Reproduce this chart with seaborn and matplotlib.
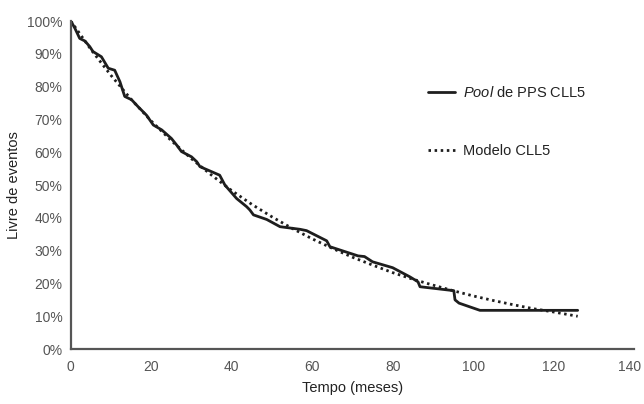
import matplotlib
matplotlib.use("Agg")
import matplotlib.pyplot as plt
import matplotlib.transforms as mtransforms
import seaborn as sns
import pandas as pd

# Observed pooled event-free survival (months, %)
pool_t = [0, 1, 2.2, 3.5, 4.7, 5.5, 7.6, 9.3, 10.9, 12.2, 13.4, 15.1, 16.7, 18.8,
          20.5, 22.6, 25, 26.3, 27.5, 30, 31.3, 32.1, 37, 38.3, 41.2, 43.7, 44.5,
          45.4, 48.7, 52, 57, 58.6, 63.6, 64.4, 71.4, 73, 75, 80, 84.3, 86.3,
          86.8, 95.2, 95.5, 96.5, 101.7, 126]
pool_s = [100, 97.8, 94.7, 93.9, 92.2, 90.7, 89.1, 85.6, 85, 81.5, 77, 76, 73.9, 71.3,
          68.3, 66.8, 64.2, 62.2, 60.2, 58.6, 57.1, 55.6, 53, 50, 45.9, 43.4, 42.4,
          40.9, 39.5, 37.3, 36.5, 36.1, 33, 31.2, 28.4, 28.2, 26.6, 24.8, 22, 20.5,
          19, 17.8, 15, 14, 11.8, 11.8]

# Fitted model curve (months, %)
model_t = [0, 5, 10, 15, 20, 25, 30, 35, 40, 45, 50, 55, 60, 65, 70, 75, 80, 85,
           90, 95, 100, 105, 110, 115, 120, 126]
model_s = [100, 91.3, 83.4, 76.1, 69.5, 63.5, 58, 53, 48.3, 44.1, 40.3, 36.8, 33.6,
           30.7, 28, 25.6, 23.3, 21.3, 19.5, 17.8, 16.2, 14.8, 13.5, 12.3, 11.3, 10]

x_ticks = [0, 20, 40, 60, 80, 100, 120, 140]
y_ticks = [0, 10, 20, 30, 40, 50, 60, 70, 80, 90, 100]

sns.set_style("white")
plt.rcParams["font.family"] = ["Liberation Sans", "DejaVu Sans"]
plt.rcParams["mathtext.fontset"] = "custom"
plt.rcParams["mathtext.it"] = "Liberation Sans:italic"
plt.rcParams["mathtext.rm"] = "Liberation Sans"

pool_df = pd.DataFrame({"t": pool_t, "s": pool_s})
model_df = pd.DataFrame({"t": model_t, "s": model_s})

fig = plt.figure(figsize=(6.44, 4.04), dpi=100)
ax = fig.add_axes([0.110, 0.136, 0.8745, 0.812])

sns.lineplot(data=pool_df, x="t", y="s", ax=ax, color="#1e1e1e", lw=2.0,
             label=r"$\it{Pool}$ de PPS CLL5", sort=False, estimator=None)
sns.lineplot(data=model_df, x="t", y="s", ax=ax, color="#1e1e1e", lw=2.0,
             linestyle=(0, (0.9, 1.3)), label="Modelo CLL5", sort=False, estimator=None)

ax.set_xlim(0, 140)
ax.set_ylim(0, 100)
ax.set_xticks(x_ticks)
ax.set_yticks(y_ticks)
ax.set_yticklabels([f"{v}%" for v in y_ticks])
ax.set_xlabel("Tempo (meses)", fontsize=10.5, color="#222222", labelpad=5)
ax.set_ylabel("Livre de eventos", fontsize=10.5, color="#222222", labelpad=4)

for side in ["top", "right"]:
    ax.spines[side].set_visible(False)
for side in ["left", "bottom"]:
    ax.spines[side].set_color("#555555")
    ax.spines[side].set_linewidth(1.6)
ax.tick_params(axis="both", direction="out", length=4, width=1.2, color="#333333",
               labelsize=10, labelcolor="#555555", pad=2)
ax.tick_params(axis="x", pad=4)

# nudge the right-most tick label so it stays inside the canvas
last = ax.get_xticklabels()[-1]
last.set_transform(last.get_transform() +
                   mtransforms.ScaledTranslation(-4 / 100, 0, fig.dpi_scale_trans))

leg = ax.legend(loc="upper left", bbox_to_anchor=(0.61, 0.845), frameon=False,
                fontsize=10.5, handlelength=1.9, handletextpad=0.55,
                labelspacing=3.0, labelcolor="#222222")

fig.savefig("out.png", dpi=100)
